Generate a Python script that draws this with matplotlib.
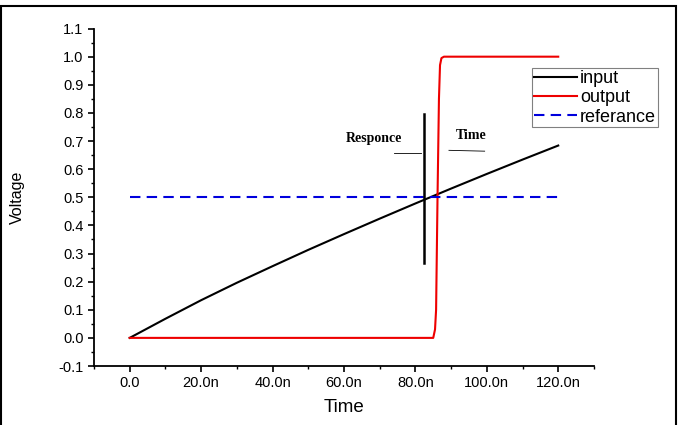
import matplotlib
matplotlib.use("Agg")
import matplotlib.pyplot as plt
from matplotlib.ticker import MultipleLocator
from matplotlib.patches import Rectangle

# --- data (time in ns) ---
t_input = [0, 10, 20, 30, 40, 50, 60, 70, 80, 90, 100, 110, 120]
v_input = [0.0, 0.068, 0.134, 0.196, 0.255, 0.313, 0.369, 0.424, 0.478, 0.531, 0.583, 0.634, 0.684]

t_output = [0, 85.0, 85.5, 85.8, 86.2, 86.6, 86.9, 87.3, 88.0, 120]
v_output = [0.0, 0.0, 0.03, 0.10, 0.50, 0.85, 0.97, 0.995, 1.0, 1.0]

t_ref = [0, 120]
v_ref = [0.5, 0.5]

# response-time marker
t_marker = 82.5
v_marker = [0.268, 0.796]

xticks = [0, 20, 40, 60, 80, 100, 120]
xticklabels = ["0.0", "20.0n", "40.0n", "60.0n", "80.0n", "100.0n", "120.0n"]
yticks = [-0.1, 0.0, 0.1, 0.2, 0.3, 0.4, 0.5, 0.6, 0.7, 0.8, 0.9, 1.0, 1.1]

plt.rcParams['font.family'] = ['Liberation Sans', 'DejaVu Sans']

fig = plt.figure(figsize=(6.83, 4.25), dpi=100)
ax = fig.add_axes([0.1376, 0.1388, 0.732, 0.794])

ax.plot(t_input, v_input, color='black', lw=1.5, label='input')
ax.plot(t_output, v_output, color='#ee0000', lw=1.5, label='output')
ax.plot(t_ref, v_ref, color='#0000dd', lw=1.5, dashes=(5, 3), label='referance')

# annotation lines and text
ax.plot([t_marker, t_marker], v_marker, color='black', lw=1.8)
ax.plot([73.9, 81.7], [0.659, 0.659], color='black', lw=0.6)
ax.plot([89.4, 99.4], [0.667, 0.664], color='black', lw=0.6)
ax.text(68.5, 0.71, 'Responce', ha='center', va='center', fontsize=10,
        fontweight='bold', family='Liberation Serif')
ax.text(95.5, 0.718, 'Time', ha='center', va='center', fontsize=10,
        fontweight='bold', family='Liberation Serif')

ax.set_xlim(-10, 130)
ax.set_ylim(-0.1, 1.1)
ax.set_xticks(xticks)
ax.set_xticklabels(xticklabels)
ax.set_yticks(yticks)
ax.set_yticklabels([f"{v:.1f}" for v in yticks])
ax.xaxis.set_minor_locator(MultipleLocator(10))
ax.yaxis.set_minor_locator(MultipleLocator(0.05))

ax.spines['top'].set_visible(False)
ax.spines['right'].set_visible(False)
for s in ('left', 'bottom'):
    ax.spines[s].set_linewidth(1.3)
ax.tick_params(which='major', direction='out', length=4.5, width=1.2, labelsize=10.5, pad=3)
ax.tick_params(which='minor', direction='out', length=2.5, width=1.0)

ax.set_xlabel('Time', fontsize=13.5, labelpad=6)
ax.set_ylabel('Voltage', fontsize=11.5, labelpad=24)

leg = ax.legend(loc='upper left', bbox_to_anchor=(0.779, 0.839),
                bbox_transform=fig.transFigure, fontsize=13, frameon=True,
                fancybox=False, edgecolor='#808080', framealpha=1,
                handlelength=2.4, handletextpad=0.15, borderpad=0.1,
                labelspacing=0.12, borderaxespad=0)
leg.get_frame().set_linewidth(0.8)

# outer frame around the figure
fig.patches.append(Rectangle((1 / 683, -0.05), 675 / 683, 1.05 - 6 / 425,
                             transform=fig.transFigure, fill=False,
                             edgecolor='black', lw=1.5, clip_on=False))

fig.savefig('out.png', dpi=100)
